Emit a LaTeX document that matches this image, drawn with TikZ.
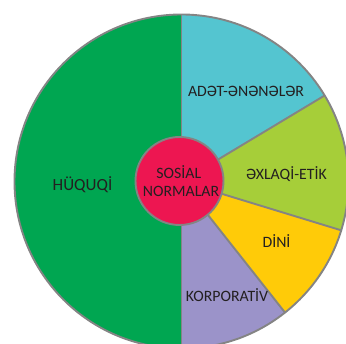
\documentclass[tikz,border=0pt]{standalone}
\usepackage{fontspec}
\setmainfont{Carlito}
\definecolor{cgreen}{RGB}{0,166,81}
\definecolor{cteal}{RGB}{84,197,208}
\definecolor{clime}{RGB}{166,206,57}
\definecolor{cyellow}{RGB}{255,203,8}
\definecolor{clav}{RGB}{155,147,201}
\definecolor{cred}{RGB}{237,22,81}
\definecolor{linegray}{RGB}{132,132,132}
\definecolor{txt}{RGB}{35,31,32}
\begin{document}
\begin{tikzpicture}[x=1pt,y=1pt,
  spoke/.style={draw=linegray, line width=1.9pt},
  lbl/.style={font=\fontsize{15.8}{18}\selectfont, text=txt, anchor=base, inner sep=0pt}]
\useasboundingbox (0,0) rectangle (346,344);
\clip (0,0) rectangle (346,344);
\coordinate (c) at (181.5,162.5);
% slices
\fill[cgreen] (c) -- ++(90:167) arc[start angle=90,end angle=270,radius=167] -- cycle;
\fill[clav] (c) -- ++(270:167) arc[start angle=270,end angle=308.3,radius=167] -- cycle;
\fill[cyellow] (c) -- ++(308.3:167) arc[start angle=308.3,end angle=343,radius=167] -- cycle;
\fill[clime] (c) -- ++(343:167) arc[start angle=343,end angle=391,radius=167] -- cycle;
\fill[cteal] (c) -- ++(31:167) arc[start angle=31,end angle=90,radius=167] -- cycle;
% spokes
\foreach \a in {90,270,308.3,343,31} \draw[spoke] (c) -- ++(\a:167);
\draw[spoke] (c) circle[radius=167];
% hub
\node[circle, fill=cred, draw=linegray, line width=1.9pt, minimum size=88pt, inner sep=0pt] (hub) at (179.5,163) {};
% labels
\node[lbl, font=\fontsize{17}{18}\selectfont] (huquqi) at (82.5,153.7) {HÜQUQİ};
\node[lbl] (adet) at (246,247.3) {ADƏT-ƏNƏNƏLƏR};
\node[lbl] (exlaqi) at (286.5,164.7) {ƏXLAQİ-ETİK};
\node[lbl] (dini) at (276.5,96.3) {DİNİ};
\node[lbl] (korp) at (227,42) {KORPORATİV};
\node[lbl] (sosial) at (178.8,165) {SOSİAL};
\node[lbl] (normalar) at (181,147.3) {NORMALAR};
\end{tikzpicture}
\end{document}
